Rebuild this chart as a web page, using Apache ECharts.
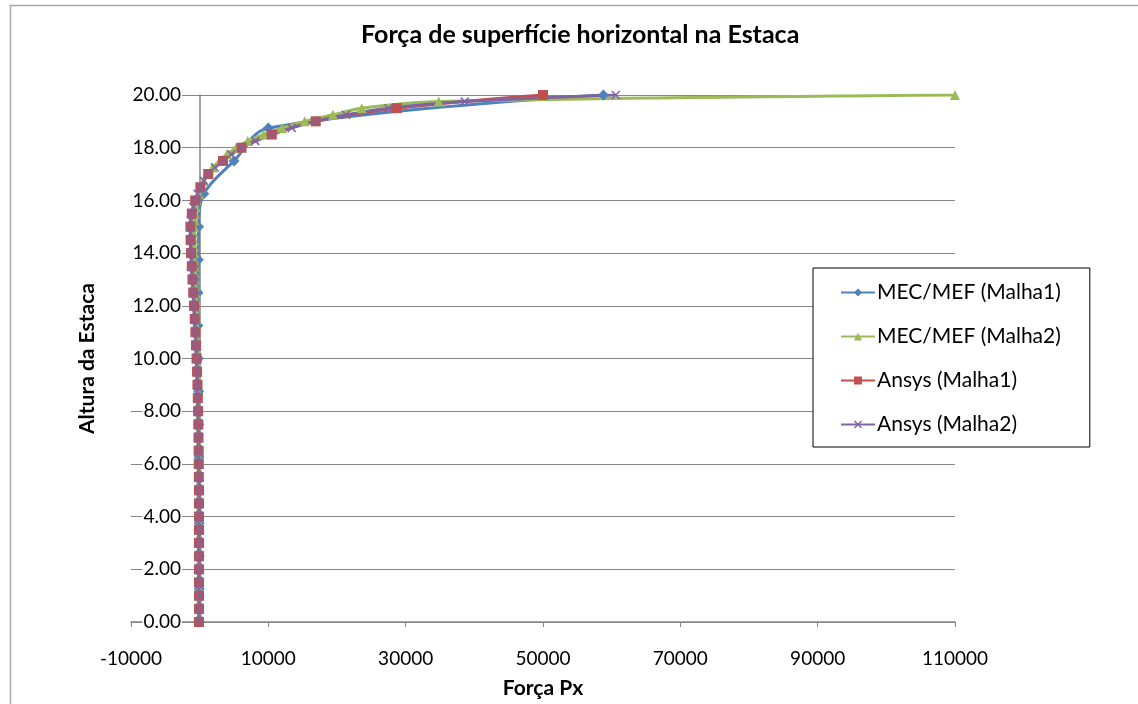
<!DOCTYPE html>
<html>
<head>
<meta charset="utf-8">
<script src="https://cdn.jsdelivr.net/npm/echarts@6/dist/echarts.min.js"></script>
<style>
html,body{margin:0;padding:0;background:#fff;}
#chart{width:1138px;height:704px;}
</style>
</head>
<body>
<div id="chart"></div>
<script>
// ---- Data ----
const titleText = "Força de superfície horizontal na Estaca";
const xName = "Força Px";
const yName = "Altura da Estaca";
const seriesNames = ["MEC/MEF (Malha1)", "MEC/MEF (Malha2)", "Ansys (Malha1)", "Ansys (Malha2)"];

// MEC/MEF (Malha1): heights every 1.25
const mec1Y = [0,1.25,2.5,3.75,5,6.25,7.5,8.75,10,11.25,12.5,13.75,15,16.25,17.5,18.75,20];
const mec1X = [-50,-50,-60,-70,-80,-100,-120,-150,-200,-250,-250,-200,-150,600,5000,10000,58800];

// MEC/MEF (Malha2): heights every 0.25
const mec2Y = [0,0.25,0.5,0.75,1,1.25,1.5,1.75,2,2.25,2.5,2.75,3,3.25,3.5,3.75,4,4.25,4.5,4.75,
  5,5.25,5.5,5.75,6,6.25,6.5,6.75,7,7.25,7.5,7.75,8,8.25,8.5,8.75,9,9.25,9.5,9.75,
  10,10.25,10.5,10.75,11,11.25,11.5,11.75,12,12.25,12.5,12.75,13,13.25,13.5,13.75,14,14.25,14.5,14.75,
  15,15.25,15.5,15.75,16,16.25,16.5,16.75,17,17.25,17.5,17.75,18,18.25,18.5,18.75,19,19.25,19.5,19.75,20];
const mec2X = [-20,-30,-30,-40,-40,-40,-50,-50,-50,-50,-60,-60,-60,-60,-70,-70,-70,-70,-80,-80,
  -80,-90,-90,-100,-100,-110,-120,-130,-140,-150,-160,-170,-180,-200,-210,-230,-250,-270,-290,-310,
  -340,-360,-390,-420,-450,-480,-510,-540,-570,-600,-640,-670,-700,-730,-760,-790,-810,-830,-840,-840,
  -820,-780,-700,-560,-380,-130,200,600,1150,1900,2900,4000,5300,7000,9300,12000,15300,19400,23600,34800,110000];

// Ansys (Malha1): heights every 0.5
const ans1Y = [0,0.5,1,1.5,2,2.5,3,3.5,4,4.5,5,5.5,6,6.5,7,7.5,8,8.5,9,9.5,
  10,10.5,11,11.5,12,12.5,13,13.5,14,14.5,15,15.5,16,16.5,17,17.5,18,18.5,19,19.5,20];
const ans1X = [-100,-100,-100,-100,-100,-100,-100,-100,-100,-100,-100,-120,-130,-150,-170,-200,-230,-270,-320,-380,
  -450,-530,-620,-720,-830,-940,-1050,-1150,-1250,-1320,-1350,-1150,-650,100,1250,3400,6100,10500,16900,28700,50000];

// Ansys (Malha2): heights every 0.25
const ans2Y = mec2Y;
const ans2X = [-90,-90,-90,-90,-90,-90,-90,-90,-90,-90,-90,-90,-90,-90,-90,-90,-90,-90,-100,-100,
  -100,-110,-110,-120,-130,-140,-150,-160,-170,-180,-200,-210,-230,-250,-270,-290,-320,-350,-380,-410,
  -450,-490,-530,-570,-620,-670,-720,-770,-830,-880,-940,-990,-1050,-1100,-1150,-1200,-1250,-1290,-1320,-1340,
  -1350,-1290,-1150,-930,-650,-300,100,600,1250,2200,3400,4600,6100,8100,10500,13400,16900,21300,27500,38600,60600];

// Axis ticks
const xMin = -10000, xMax = 110000, xStep = 20000;
const yMin = 0, yMax = 20, yStep = 2;

const colors = ["#4F81BD", "#9BBB59", "#C0504D", "#8064A2"];
const xMark = 'path://M0,1.2 L1.2,0 L5,3.8 L8.8,0 L10,1.2 L6.2,5 L10,8.8 L8.8,10 L5,6.2 L1.2,10 L0,8.8 L3.8,5 Z';

function pairs(xs, ys) { return xs.map((x, i) => [x, ys[i]]); }

const FONT = 'Lato';
const chart = echarts.init(document.getElementById('chart'), null, {renderer: 'canvas'});

function mk(name, xs, ys, color, symbol, size) {
  return {
    name: name, type: 'line', data: pairs(xs, ys),
    smooth: 0.35, symbol: symbol, symbolSize: size, showSymbol: true,
    lineStyle: {color: color, width: 3},
    itemStyle: {color: color},
    emphasis: {disabled: true},
    animation: false
  };
}

chart.setOption({
  animation: false,
  backgroundColor: '#fff',
  color: colors,
  title: {
    text: titleText, left: 356, top: 17,
    textStyle: {fontFamily: FONT, fontSize: 25, fontWeight: 'bold', color: '#000'}
  },
  grid: {left: 131, right: 183, top: 95, bottom: 81, containLabel: false},
  xAxis: {
    type: 'value', min: xMin, max: xMax, interval: xStep,
    name: xName, nameLocation: 'middle', nameGap: 56,
    nameTextStyle: {fontFamily: FONT, fontSize: 21, fontWeight: 'bold', color: '#000'},
    axisLine: {onZero: false, lineStyle: {color: '#868686', width: 1.5}},
    axisTick: {show: true, length: 5, lineStyle: {color: '#868686'}},
    axisLabel: {fontFamily: FONT, fontSize: 19, color: '#000', margin: 27,
      formatter: v => String(v)},
    splitLine: {show: false}
  },
  yAxis: {
    type: 'value', min: yMin, max: yMax, interval: yStep,
    name: yName, nameLocation: 'middle', nameGap: 33, nameRotate: 90,
    nameTextStyle: {fontFamily: FONT, fontSize: 21, fontWeight: 'bold', color: '#000'},
    axisLine: {onZero: true, lineStyle: {color: '#868686', width: 1.5}},
    axisTick: {show: true, length: 5, lineStyle: {color: '#868686'}},
    axisLabel: {fontFamily: FONT, fontSize: 19, color: '#000', margin: -51,
      backgroundColor: '#fff', padding: [0, 1, 0, 1],
      formatter: v => v.toFixed(2)},
    splitLine: {show: true, lineStyle: {color: '#868686', width: 1}}
  },
  legend: {
    orient: 'vertical', left: 813, top: 268,
    data: seriesNames,
    backgroundColor: '#fff', borderColor: '#000', borderWidth: 1,
    padding: [14, 29, 12, 27],
    itemGap: 23, itemWidth: 34, itemHeight: 10,
    textStyle: {fontFamily: FONT, fontSize: 21, color: '#000', padding: [0, 0, 0, -3]}
  },
  graphic: [{
    type: 'rect', left: 8, top: 3, shape: {width: 1300, height: 900},
    style: {fill: 'none', stroke: '#a6a6a6', lineWidth: 1.5}, silent: true, z: -10
  }],
  series: [
    mk(seriesNames[0], mec1X, mec1Y, colors[0], 'diamond', 11),
    mk(seriesNames[1], mec2X, mec2Y, colors[1], 'triangle', 10),
    mk(seriesNames[2], ans1X, ans1Y, colors[2], 'rect', 10),
    mk(seriesNames[3], ans2X, ans2Y, colors[3], xMark, 9)
  ]
});
</script>
</body>
</html>
